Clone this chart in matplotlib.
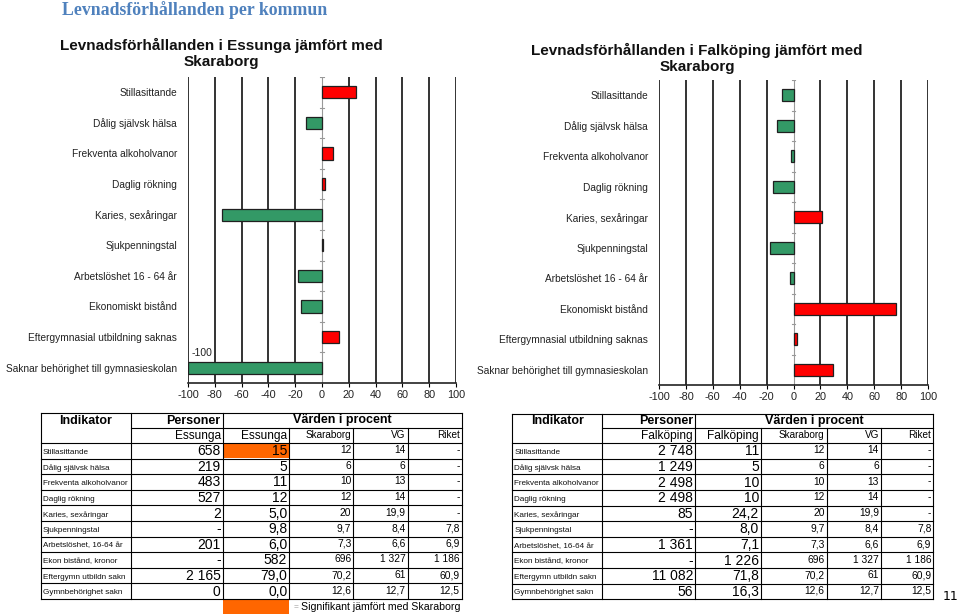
import matplotlib
matplotlib.use("Agg")
import matplotlib.pyplot as plt
from matplotlib.patches import Rectangle

plt.rcParams['font.family'] = ['Liberation Sans', 'DejaVu Sans']

# ---------------- data ----------------
chart_categories = ['Stillasittande', 'Dålig självsk hälsa', 'Frekventa alkoholvanor',
                    'Daglig rökning', 'Karies, sexåringar', 'Sjukpenningstal',
                    'Arbetslöshet 16 - 64 år', 'Ekonomiskt bistånd',
                    'Eftergymnasial utbildning saknas', 'Saknar behörighet till gymnasieskolan']
essunga_diff = [25, -12, 8, 2, -75, 1, -18, -16, 12.5, -100]
falkoping_diff = [-8.3, -12, -2, -15, 21, -17.5, -2.7, 76.5, 2.3, 29.5]
x_ticks = [-100, -80, -60, -40, -20, 0, 20, 40, 60, 80, 100]

table_indicators = ['Stillasittande', 'Dålig självsk hälsa', 'Frekventa alkoholvanor',
                    'Daglig rökning', 'Karies, sexåringar', 'Sjukpenningstal',
                    'Arbetslöshet, 16-64 år', 'Ekon bistånd, kronor',
                    'Eftergymn utbildn sakn', 'Gymnbehörighet sakn']
essunga_personer = ['658', '219', '483', '527', '2', '-', '201', '-', '2 165', '0']
essunga_pct = ['15', '5', '11', '12', '5,0', '9,8', '6,0', '582', '79,0', '0,0']
falkoping_personer = ['2 748', '1 249', '2 498', '2 498', '85', '-', '1 361', '-', '11 082', '56']
falkoping_pct = ['11', '5', '10', '10', '24,2', '8,0', '7,1', '1 226', '71,8', '16,3']
skaraborg_pct = ['12', '6', '10', '12', '20', '9,7', '7,3', '696', '70,2', '12,6']
vg_pct = ['14', '6', '13', '14', '19,9', '8,4', '6,6', '1 327', '61', '12,7']
riket_pct = ['-', '-', '-', '-', '-', '7,8', '6,9', '1 186', '60,9', '12,5']
essunga_significant = [True] + [False] * 9
falkoping_significant = [False] * 10

RED = '#FF0000'
GREEN = '#339966'
ORANGE = '#FF6600'
W, H = 960, 616

fig = plt.figure(figsize=(9.6, 6.16), dpi=100)
fig.patch.set_facecolor('white')


def rect(l, t, r, b):
    return [l / W, 1 - b / H, (r - l) / W, (b - t) / H]


def draw_chart(box, values, label_first=False):
    ax = fig.add_axes(rect(*box))
    n = len(chart_categories)
    y = list(range(n))
    colors = [RED if v > 0 else GREEN for v in values]
    ax.barh(y, values, height=0.4, color=colors, edgecolor='#202020', linewidth=0.9, zorder=3)
    ax.set_xlim(-100, 100)
    ax.set_ylim(n - 0.5, -0.5)
    ax.set_xticks(x_ticks)
    ax.set_xticklabels([str(t) for t in x_ticks], fontsize=7.8, color='#222222')
    ax.set_yticks(y)
    ax.set_yticklabels(chart_categories, fontsize=7.3, color='#222222')
    ax.tick_params(axis='y', length=0, pad=8)
    ax.tick_params(axis='x', length=3, width=0.8, pad=2)
    for t in x_ticks:
        if t != 0:
            ax.axvline(t, color='#333333', lw=1.4, zorder=1)
    ax.axvline(0, color='#999999', lw=0.8, zorder=2)
    for b in range(n):
        ax.plot([-1.2, 1.2], [b - 0.5, b - 0.5], color='#999999', lw=0.8, zorder=2)
    for s in ['top', 'right', 'left']:
        ax.spines[s].set_visible(False)
    ax.spines['bottom'].set_linewidth(1.2)
    ax.spines['bottom'].set_color('#222222')
    if label_first:
        i = n - 1
        ax.text(values[i] + 3, i - 0.32, str(int(values[i])), fontsize=7.5, va='bottom', ha='left',
                color='#222222')
    return ax


draw_chart((188, 77, 456, 383), essunga_diff, label_first=True)
draw_chart((659, 80, 928, 385), falkoping_diff)

ov = fig.add_axes([0, 0, 1, 1], facecolor='none')
ov.set_xlim(0, W)
ov.set_ylim(H, 0)
ov.axis('off')

ov.text(62, 10, 'Levnadsförhållanden per kommun', fontsize=12.8, fontweight='bold',
        family=['Liberation Serif'], color='#4F81BD', va='center', ha='left')
ov.text(221, 53.5, 'Levnadsförhållanden i Essunga jämfört med\nSkaraborg', fontsize=11,
        fontweight='bold', ha='center', va='center', linespacing=1.22, color='#111111')
ov.text(697, 58.5, 'Levnadsförhållanden i Falköping jämfört med\nSkaraborg', fontsize=11,
        fontweight='bold', ha='center', va='center', linespacing=1.22, color='#111111')


def draw_table(cols, top, h1, h2, bottom, kommun, personer, pct, signif):
    nrows = len(table_indicators)
    rh = (bottom - h2) / nrows
    lw = 0.8
    L, R = cols[0], cols[-1]
    ov.plot([L, R], [top, top], color='k', lw=lw)
    ov.plot([cols[1], R], [h1, h1], color='k', lw=lw)
    for i in range(nrows + 1):
        yy = h2 + i * rh
        ov.plot([L, R], [yy, yy], color='k', lw=lw)
    ov.plot([L, L], [top, bottom], color='k', lw=lw)
    ov.plot([R, R], [top, bottom], color='k', lw=lw)
    ov.plot([cols[1], cols[1]], [top, bottom], color='k', lw=lw)
    ov.plot([cols[2], cols[2]], [top, bottom], color='k', lw=lw)
    for c in cols[3:-1]:
        ov.plot([c, c], [h1, bottom], color='k', lw=lw)
    ov.text((cols[0] + cols[1]) / 2, (top + h1) / 2, 'Indikator', fontsize=9, fontweight='bold',
            ha='center', va='center')
    ov.text(cols[2] - 2, (top + h1) / 2, 'Personer', fontsize=9, fontweight='bold',
            ha='right', va='center')
    ov.text((cols[2] + cols[-1]) / 2, (top + h1) / 2, 'Värden i procent', fontsize=9,
            fontweight='bold', ha='center', va='center')
    ym = (h1 + h2) / 2 + 0.5
    ov.text(cols[2] - 2, ym, kommun, fontsize=8.6, ha='right', va='center')
    ov.text(cols[3] - 2, ym, kommun, fontsize=8.6, ha='right', va='center')
    ov.text(cols[4] - 2, ym - 1, 'Skaraborg', fontsize=7.2, ha='right', va='center')
    ov.text(cols[5] - 2, ym - 1, 'VG', fontsize=7.2, ha='right', va='center')
    ov.text(cols[6] - 2, ym - 1, 'Riket', fontsize=7.2, ha='right', va='center')
    for i in range(nrows):
        y0 = h2 + i * rh
        yc = y0 + rh / 2
        if signif[i]:
            ov.add_patch(Rectangle((cols[2] + 0.5, y0 + 0.5), cols[3] - cols[2] - 1, rh - 1,
                                   facecolor=ORANGE, edgecolor='none', zorder=0))
        ov.text(cols[0] + 2, yc + 1.5, table_indicators[i], fontsize=5.9, ha='left',
                va='center', color='#111111')
        ov.text(cols[2] - 2, yc + 0.5, personer[i], fontsize=10, ha='right', va='center')
        ov.text(cols[3] - 2, yc + 0.5, pct[i], fontsize=10, ha='right', va='center')
        ov.text(cols[4] - 2, yc - 0.5, skaraborg_pct[i], fontsize=7.4, ha='right', va='center')
        ov.text(cols[5] - 2, yc - 0.5, vg_pct[i], fontsize=7.4, ha='right', va='center')
        ov.text(cols[6] - 2, yc - 0.5, riket_pct[i], fontsize=7.4, ha='right', va='center')


draw_table([41, 131, 222.7, 289.3, 353.3, 407.7, 461.7], 413, 428, 443, 599,
           'Essunga', essunga_personer, essunga_pct, essunga_significant)
draw_table([512.3, 602.3, 695, 761, 826.7, 881, 933.3], 414, 428, 443, 599.3,
           'Falköping', falkoping_personer, falkoping_pct, falkoping_significant)

ov.add_patch(Rectangle((223, 600), 66, 14, facecolor=ORANGE, edgecolor='none'))
ov.text(294, 607.5, '=', fontsize=6, color='#999999', ha='left', va='center')
ov.text(301, 607.5, 'Signifikant jämfört med Skaraborg', fontsize=7.6, ha='left', va='center')
ov.text(951, 597, '11', fontsize=9, family=['DejaVu Sans'], ha='center', va='center')

fig.savefig('out.png', dpi=100, facecolor='white')
